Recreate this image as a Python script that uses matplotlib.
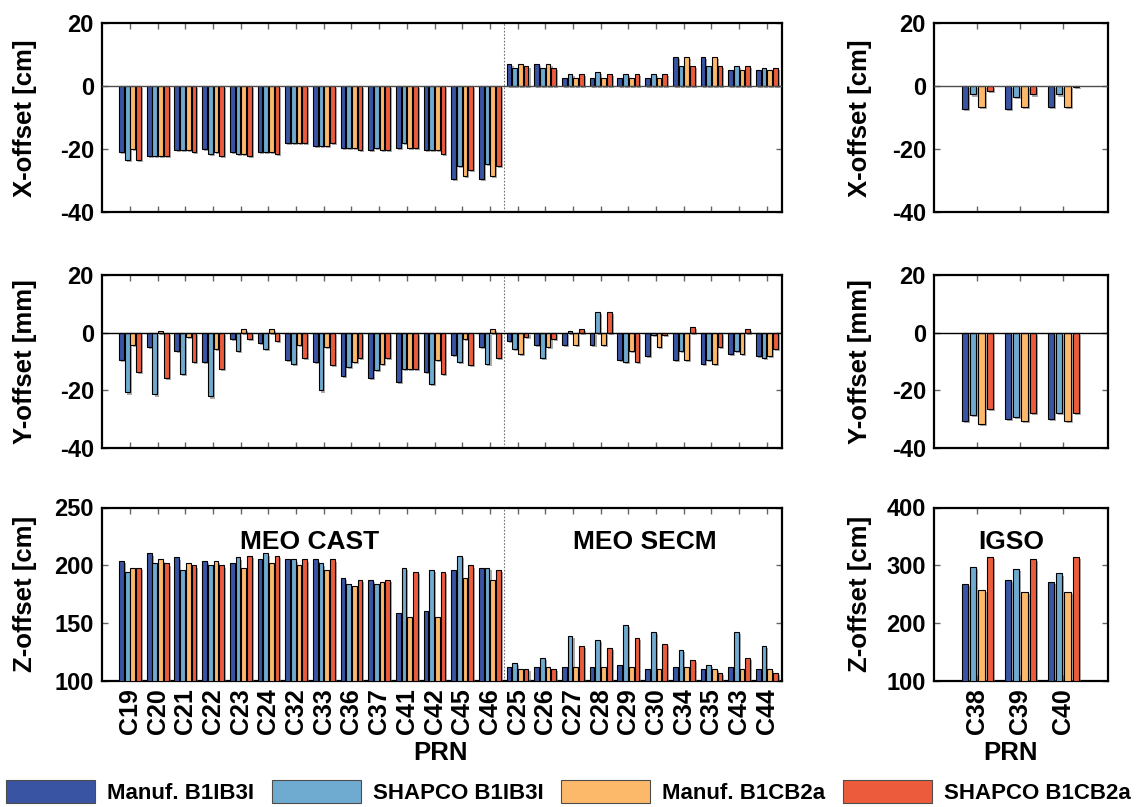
import matplotlib
matplotlib.use("Agg")
import matplotlib.pyplot as plt
import matplotlib.patheffects as pe
from matplotlib.patches import Patch
from matplotlib import font_manager
import numpy as np

# ---------------- data ----------------
meo_prn = ["C19", "C20", "C21", "C22", "C23", "C24", "C32", "C33", "C36", "C37",
           "C41", "C42", "C45", "C46", "C25", "C26", "C27", "C28", "C29", "C30",
           "C34", "C35", "C43", "C44"]
igso_prn = ["C38", "C39", "C40"]
series = ["Manuf. B1IB3I", "SHAPCO B1IB3I", "Manuf. B1CB2a", "SHAPCO B1CB2a"]
colors = ["#3A54A4", "#6FAAD0", "#FDB96A", "#EC5B3C"]

# X-offset [cm], MEO
x_manuf_b1ib3i = [-20.8, -22.1, -20.1, -20.0, -20.8, -20.8, -18.1, -18.8, -19.5, -20.1,
                  -19.5, -20.1, -29.3, -29.3, 7.2, 7.2, 2.7, 2.7, 2.7, 2.7, 9.2, 9.2, 5.3, 5.3]
x_shapco_b1ib3i = [-23.4, -22.1, -20.1, -21.5, -21.5, -20.8, -18.1, -18.8, -19.5, -19.5,
                   -18.1, -20.1, -25.3, -24.6, 5.9, 5.9, 4.0, 4.6, 4.0, 4.0, 6.5, 6.5, 6.5, 5.9]
x_manuf_b1cb2a = [-20.0, -22.0, -20.1, -20.7, -21.5, -20.8, -18.1, -18.8, -19.5, -20.1,
                  -19.5, -20.1, -28.6, -28.6, 7.2, 7.2, 2.7, 2.7, 2.7, 2.7, 9.2, 9.2, 5.3, 5.3]
x_shapco_b1cb2a = [-23.4, -22.0, -20.8, -22.1, -22.1, -21.5, -18.1, -18.1, -20.1, -20.1,
                   -19.5, -21.5, -26.6, -25.3, 6.5, 5.9, 4.0, 4.0, 4.0, 4.0, 6.5, 6.5, 6.5, 5.9]

# Y-offset [mm], MEO
y_manuf_b1ib3i = [-9.4, -5.0, -6.5, -10.1, -2.2, -3.6, -9.4, -10.1, -15.0, -15.8,
                  -17.2, -13.6, -7.9, -5.0, -2.9, -4.3, -4.3, -4.3, -9.4, -8.0, -9.4, -10.8, -7.3, -8.0]
y_shapco_b1ib3i = [-20.8, -21.5, -14.3, -22.2, -6.5, -5.8, -10.8, -20.1, -12.1, -12.9,
                   -12.8, -17.9, -10.1, -10.8, -5.8, -8.7, 0.7, 7.1, -10.1, -0.7, -6.5, -9.4, -6.5, -8.7]
y_manuf_b1cb2a = [-4.3, 0.7, -1.5, -5.8, 1.4, 1.4, -4.3, -5.0, -10.1, -10.8,
                  -12.8, -9.4, -2.2, 1.4, -7.3, -5.0, -4.3, -4.3, -6.5, -5.0, -9.4, -10.8, -7.3, -8.0]
y_shapco_b1cb2a = [-13.6, -15.7, -10.1, -12.8, -2.2, -2.9, -8.7, -11.4, -8.7, -8.7,
                   -12.8, -14.3, -11.4, -8.7, -1.5, -2.2, 1.4, 7.1, -10.1, -0.7, 2.1, -5.0, 1.4, -5.8]

# Z-offset [cm], MEO
z_manuf_b1ib3i = [203.4, 210.3, 206.8, 203.4, 201.6, 205.1, 205.1, 205.1, 189.0, 187.2,
                  158.4, 160.5, 196.2, 197.9, 112.4, 112.4, 112.4, 112.4, 114.1, 110.7,
                  112.4, 110.7, 112.4, 110.7]
z_shapco_b1ib3i = [194.4, 201.6, 196.2, 199.9, 206.8, 210.3, 205.1, 201.6, 183.5, 183.5,
                   197.9, 196.2, 208.5, 197.9, 115.8, 119.6, 139.2, 135.7, 148.1, 142.6,
                   126.8, 114.1, 142.6, 130.2]
z_manuf_b1cb2a = [197.9, 205.1, 201.6, 203.4, 197.9, 201.6, 199.9, 196.2, 181.8, 185.2,
                  155.0, 155.0, 189.0, 187.2, 110.7, 112.4, 112.4, 112.4, 112.4, 110.7,
                  112.4, 110.7, 110.7, 110.7]
z_shapco_b1cb2a = [197.9, 201.6, 199.9, 199.9, 208.5, 208.5, 205.1, 205.1, 187.2, 187.2,
                   194.4, 194.4, 199.9, 196.2, 110.7, 110.7, 130.2, 128.5, 137.4, 132.0,
                   117.9, 107.2, 119.6, 107.2]

# IGSO
igso_x = [[-7.2, -7.2, -6.5], [-2.6, -3.3, -2.6], [-6.5, -6.5, -6.5], [-1.4, -2.6, -0.3]]
igso_y = [[-30.8, -30.1, -30.1], [-28.7, -29.2, -27.9], [-31.6, -30.8, -30.8], [-26.4, -27.9, -27.9]]
igso_z = [[268.0, 275.5, 272.0], [296.9, 293.5, 285.9], [258.1, 254.1, 254.1], [314.9, 311.4, 314.9]]

meo_x = [x_manuf_b1ib3i, x_shapco_b1ib3i, x_manuf_b1cb2a, x_shapco_b1cb2a]
meo_y = [y_manuf_b1ib3i, y_shapco_b1ib3i, y_manuf_b1cb2a, y_shapco_b1cb2a]
meo_z = [z_manuf_b1ib3i, z_shapco_b1ib3i, z_manuf_b1cb2a, z_shapco_b1cb2a]

# ---------------- style ----------------
fam = "Liberation Sans"
plt.rcParams["font.family"] = [fam, "DejaVu Sans"]
plt.rcParams["font.weight"] = "bold"
plt.rcParams["axes.labelweight"] = "bold"
plt.rcParams["axes.unicode_minus"] = False
avail = {f.name for f in font_manager.fontManager.ttflist}
leg_fam = "Liberation Sans Narrow" if "Liberation Sans Narrow" in avail else fam

W, H = 1137, 807
fig = plt.figure(figsize=(W / 100, H / 100), dpi=100)

def ax_at(x0, y0, x1, y1):
    return fig.add_axes([x0 / W, 1 - y1 / H, (x1 - x0) / W, (y1 - y0) / H])

rows = [(23.3, 212.3), (275, 447.7), (507.5, 681)]
L = (102.3, 782)
R = (934.3, 1108)

shadow = [pe.SimplePatchShadow(offset=(1.5, -1.5), shadow_rgbFace="0.45", alpha=0.6), pe.Normal()]

def style(ax, n):
    ax.set_xticks(np.arange(1, n + 1))
    ax.tick_params(direction="in", length=4, color="0.4", top=True, right=True, width=1)
    ax.tick_params(axis="y", labelsize=17, pad=6)
    ax.tick_params(axis="x", labelsize=18, pad=5)
    for sp in ax.spines.values():
        sp.set_linewidth(1.6)
        sp.set_color("black")

def draw(ax, data, n, pitch, width, base=0.0):
    pos = np.arange(1, n + 1)
    for i, vals in enumerate(data):
        h = np.array(vals) - base
        bars = ax.bar(pos + (i - 1.5) * pitch, h, width=width, bottom=base, color=colors[i],
                      edgecolor="black", linewidth=0.8, zorder=3)
        for b in bars:
            b.set_path_effects(shadow)
    style(ax, n)

ylabels = ["X-offset [cm]", "Y-offset [mm]", "Z-offset [cm]"]
lp, lw_ = 0.205, 0.17
rp, rw = 0.193, 0.15
LAB = 18.5

for r, (y0, y1) in enumerate(rows):
    axl = ax_at(L[0], y0, L[1], y1)
    axr = ax_at(R[0], y0, R[1], y1)
    if r < 2:
        d_l = meo_x if r == 0 else meo_y
        d_r = igso_x if r == 0 else igso_y
        draw(axl, d_l, 24, lp, lw_)
        draw(axr, d_r, 3, rp, rw)
        for a in (axl, axr):
            a.set_ylim(-40, 20)
            a.set_yticks([-40, -20, 0, 20])
            a.axhline(0, color="0.3" if r == 0 else "black", lw=1.0, zorder=4)
            a.set_xticklabels([])
    else:
        draw(axl, meo_z, 24, lp, lw_, 100)
        draw(axr, igso_z, 3, rp, rw, 100)
        axl.set_ylim(100, 250)
        axl.set_yticks([100, 150, 200, 250])
        axr.set_ylim(100, 400)
        axr.set_yticks([100, 200, 300, 400])
        axl.set_xticklabels(meo_prn, rotation=90, fontweight="bold")
        axr.set_xticklabels(igso_prn, rotation=90, fontweight="bold")
        axl.set_xlabel("PRN", fontsize=LAB, fontweight="bold")
        axr.set_xlabel("PRN", fontsize=LAB, fontweight="bold")
        axl.xaxis.set_label_coords(0.497, -0.345)
        axr.xaxis.set_label_coords(0.436, -0.345)
        axl.text(7.5, 220, "MEO CAST", ha="center", va="center", fontsize=19, fontweight="bold")
        axl.text(19.6, 220, "MEO SECM", ha="center", va="center", fontsize=19, fontweight="bold")
        axr.text(1.8, 340, "IGSO", ha="center", va="center", fontsize=19, fontweight="bold")
    axl.set_xlim(0, 24.55)
    axr.set_xlim(0, 4.04)
    axl.axvline(14.5, color="0.45", lw=0.8, ls=(0, (1.5, 1.5)), zorder=2)
    axl.set_ylabel(ylabels[r], fontsize=LAB, fontweight="bold")
    axr.set_ylabel(ylabels[r], fontsize=LAB, fontweight="bold")
    axl.yaxis.set_label_coords(-0.096, 0.5)
    axr.yaxis.set_label_coords(-0.359, 0.5)
    for a in (axl, axr):
        for t in a.get_yticklabels() + a.get_xticklabels():
            t.set_fontweight("bold")

handles = [Patch(facecolor=c, edgecolor="0.3", linewidth=0.8) for c in colors]
leg = fig.legend(handles, series, loc="lower center", bbox_to_anchor=(0.5, 0.004), ncol=4,
                 frameon=False, handlelength=4.0, handleheight=1.25, handletextpad=0.55,
                 columnspacing=0.8, borderpad=0.0, borderaxespad=0.0,
                 prop={"family": leg_fam, "weight": "bold", "size": 16})

fig.savefig("out.png", dpi=100)
